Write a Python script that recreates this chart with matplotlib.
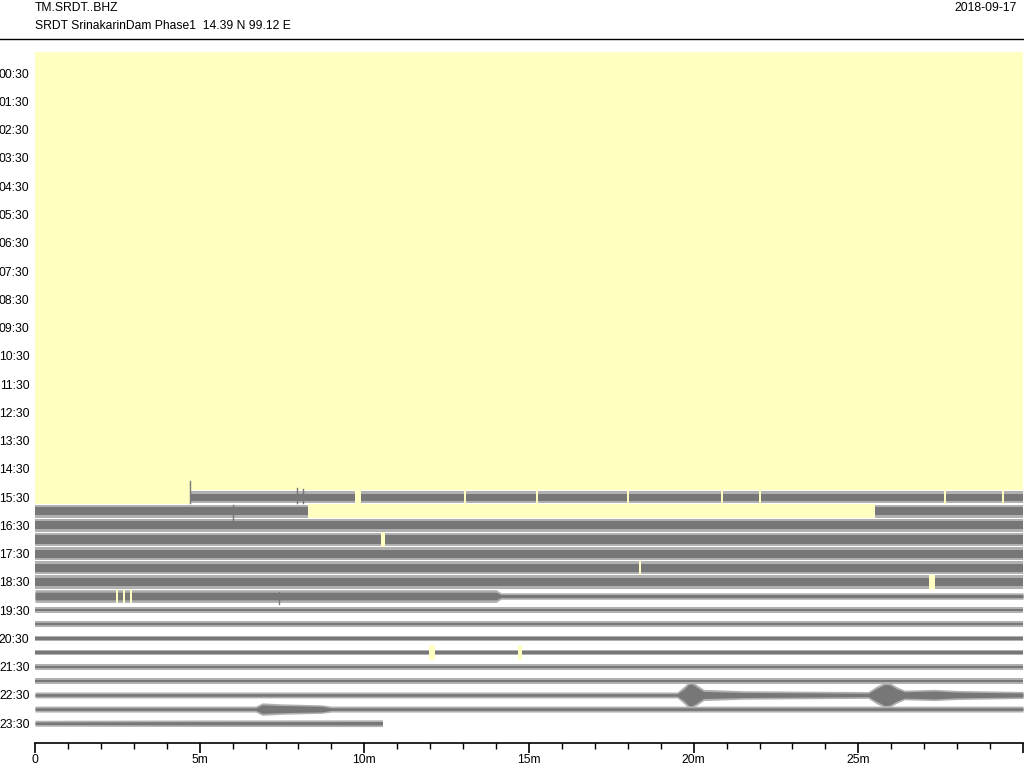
import matplotlib
matplotlib.use("Agg")
import matplotlib.pyplot as plt
from matplotlib.patches import Rectangle

plt.rcParams['font.family'] = ['Liberation Sans', 'DejaVu Sans']

# ---- data -------------------------------------------------------------
station = "TM.SRDT..BHZ"
subtitle = "SRDT SrinakarinDam Phase1  14.39 N 99.12 E"
date_label = "2018-09-17"

row_labels = ["%02d:30" % h for h in range(24)]     # label rows 1,3,...,47
x_ticks = [0, 5, 10, 15, 20, 25]
x_tick_labels = ["0", "5m", "10m", "15m", "20m", "25m"]

# data segments per row: (row, start minute, end minute)
segments = [(31, 4.7, 30.0), (32, 0.0, 8.3), (32, 25.5, 30.0)] + \
           [(r, 0.0, 30.0) for r in range(33, 47)] + [(47, 0.0, 10.55)]

# envelope breakpoints per row: (minute, core half-amp, outer half-amp), in row units
env_31 = [(0, .24, .42), (30, .24, .42)]
env_32 = [(0, .28, .46), (30, .28, .46)]
env_33 = [(0, .29, .47), (30, .29, .47)]
env_34 = [(0, .29, .47), (30, .29, .47)]
env_35 = [(0, .29, .47), (30, .29, .47)]
env_36 = [(0, .29, .47), (30, .29, .47)]
env_37 = [(0, .29, .47), (30, .29, .47)]
env_38 = [(0, .27, .45), (14.0, .27, .45), (14.15, .11, .23), (30, .11, .23)]
env_39 = [(0, .08, .2), (30, .08, .2)]
env_40 = [(0, .08, .2), (30, .08, .2)]
env_41 = [(0, .08, .2), (30, .08, .2)]
env_42 = [(0, .08, .2), (30, .08, .2)]
env_43 = [(0, .08, .2), (30, .08, .2)]
env_44 = [(0, .08, .2), (30, .08, .2)]
env_45 = [(0, .09, .21), (19.5, .09, .21), (19.7, .4, .6), (19.85, .75, .92), (19.95, .78, .93),
          (20.1, .55, .72), (20.3, .25, .4), (21.5, .18, .3), (25.3, .12, .24),
          (25.55, .45, .62), (25.8, .75, .9), (25.95, .72, .88), (26.15, .45, .6), (26.4, .22, .34),
          (27.3, .28, .4), (28.0, .2, .32), (30, .14, .25)]
env_46 = [(0, .09, .21), (6.7, .09, .21), (6.9, .3, .44), (7.5, .25, .37),
          (8.7, .2, .3), (9.0, .09, .21), (30, .09, .21)]
env_47 = [(0, .09, .21), (5.0, .11, .23), (10.55, .12, .24)]
envelopes = {31: env_31, 32: env_32, 33: env_33, 34: env_34, 35: env_35,
             36: env_36, 37: env_37, 38: env_38, 39: env_39, 40: env_40,
             41: env_41, 42: env_42, 43: env_43, 44: env_44, 45: env_45,
             46: env_46, 47: env_47}

# data gaps (yellow): (row, start, end)
gaps = [(r, 0.0, 30.0) for r in range(0, 31)] + [
    (31, 0.0, 4.7), (32, 8.3, 25.5),
    (31, 9.72, 9.9), (31, 13.03, 13.09), (31, 15.21, 15.27), (31, 17.97, 18.03),
    (31, 20.83, 20.89), (31, 21.97, 22.03), (31, 27.6, 27.66), (31, 29.37, 29.43),
    (34, 10.52, 10.62), (36, 18.33, 18.41), (37, 27.15, 27.33),
    (38, 2.45, 2.52), (38, 2.67, 2.74), (38, 2.89, 2.96),
    (42, 11.97, 12.15), (42, 14.66, 14.8)]

# prominent single spikes: (row, minute, up, down) in row units
spikes = [(31, 4.70, 1.15, 0.45), (31, 7.95, 0.62, 0.4), (31, 8.15, 0.6, 0.45),
          (32, 6.0, 0.45, 0.85), (38, 7.4, 0.3, 0.55)]

# ---- drawing ------------------------------------------------------------
fig = plt.figure(figsize=(10.24, 7.68), dpi=100)
ax = fig.add_axes([35 / 1024, 1 - 743 / 768, 988 / 1024, (743 - 52) / 768])

trace_col = '#777777'
outer_col = '#b0b0b0'
gap_col = '#ffffc2'


def env_at(env, t):
    for (a, ca, oa), (b, cb, ob) in zip(env[:-1], env[1:]):
        if a <= t <= b:
            f = 0 if b == a else (t - a) / (b - a)
            return (t, ca + f * (cb - ca), oa + f * (ob - oa))
    return (t, env[-1][1], env[-1][2])


for r, t0, t1 in segments:
    env = envelopes[r]
    pts = [env_at(env, t0)] + [p for p in env if t0 < p[0] < t1] + [env_at(env, t1)]
    ts = [p[0] for p in pts]
    core = [p[1] for p in pts]
    outer = [p[2] for p in pts]
    ax.fill_between(ts, [r - o for o in outer], [r + o for o in outer],
                    color=outer_col, lw=0, zorder=2)
    ax.fill_between(ts, [r - c for c in core], [r + c for c in core],
                    color=trace_col, lw=0, zorder=3)

for r, t0, t1 in gaps:
    ax.add_patch(Rectangle((t0, r - 0.5), t1 - t0, 1.0, facecolor=gap_col,
                           edgecolor='none', zorder=4, antialiased=False))

for r, t, up, dn in spikes:
    ax.plot([t, t], [r - up, r + dn], color=trace_col, lw=1.0, zorder=5)

ax.set_xlim(0, 30)
ax.set_ylim(48.4, -0.5)

for s in ['top', 'right', 'left']:
    ax.spines[s].set_visible(False)
ax.spines['bottom'].set_linewidth(1.2)

ax.set_xticks(x_ticks + [30])
ax.set_xticklabels(x_tick_labels + [""])
ax.set_xticks(range(0, 31), minor=True)
ax.tick_params(axis='x', which='major', length=7, width=1.2, labelsize=8.7, pad=1)
ax.tick_params(axis='x', which='minor', length=4, width=1.0)

ax.set_yticks(list(range(1, 48, 2)))
ax.set_yticklabels(row_labels)
ax.tick_params(axis='y', length=0, labelsize=8.7, pad=4)

fig.text(35 / 1024, 1 - 8 / 768, station, ha='left', va='center', fontsize=8.7)
fig.text(35 / 1024, 1 - 26 / 768, subtitle, ha='left', va='center', fontsize=8.7)
fig.text(1017 / 1024, 1 - 8 / 768, date_label, ha='right', va='center', fontsize=8.7)
fig.add_artist(plt.Line2D([0, 1], [1 - 38.5 / 768, 1 - 38.5 / 768], color='black',
                          lw=1.0, transform=fig.transFigure))

fig.savefig("out.png", dpi=100)
